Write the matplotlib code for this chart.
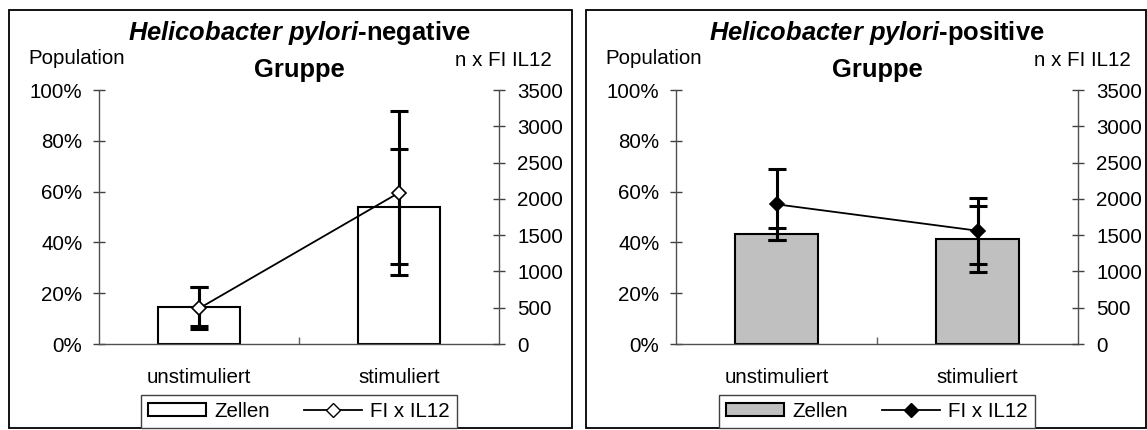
import matplotlib
matplotlib.use("Agg")
import matplotlib.pyplot as plt
from matplotlib.patches import Rectangle, Patch
from matplotlib.lines import Line2D
from matplotlib.ticker import PercentFormatter, MultipleLocator, FixedLocator

plt.rcParams['font.family'] = ['Liberation Sans', 'DejaVu Sans']
plt.rcParams['mathtext.fontset'] = 'custom'
plt.rcParams['mathtext.rm'] = 'Liberation Sans'
plt.rcParams['mathtext.bf'] = 'Liberation Sans:bold'
plt.rcParams['mathtext.it'] = 'Liberation Sans:italic'
plt.rcParams['mathtext.bfit'] = 'Liberation Sans:italic:bold'

categories = ['unstimuliert', 'stimuliert']

# cell population (%) with error
neg_cells = [14.7, 54.1]
neg_cells_err = [7.6, 22.7]
pos_cells = [43.2, 41.5]
pos_cells_err = [2.3, 13.0]

# n x FI IL12 with error
neg_fi = [490, 2085]
neg_fi_err = [290, 1130]
pos_fi = [1925, 1561]
pos_fi_err = [490, 455]

W, H = 1147, 430
fig = plt.figure(figsize=(W / 100, H / 100), dpi=100)

FS = 14.8
TFS = 18.4


def panel(x0, x1, frame, title_word, cells, cells_err, fi, fi_err, bar_color, marker_face):
    # frame around each chart
    fig.patches.append(Rectangle((frame[0] / W, 1 - frame[3] / H),
                                 (frame[2] - frame[0]) / W, (frame[3] - frame[1]) / H,
                                 transform=fig.transFigure, fill=False,
                                 edgecolor='black', linewidth=1.3, zorder=0))

    ax = fig.add_axes([x0 / W, 1 - 344 / H, (x1 - x0) / W, (344 - 90) / H])
    xs = list(range(len(categories)))
    ax.bar(xs, cells, width=0.41, color=bar_color, edgecolor='black',
           linewidth=1.5, zorder=2)
    ax.errorbar(xs, cells, yerr=cells_err, fmt='none', ecolor='black',
                elinewidth=2.2, capsize=6.5, capthick=2.2, zorder=3)
    ax.set_xlim(-0.5, 1.5)
    ax.set_ylim(0, 100)
    ax.yaxis.set_major_locator(MultipleLocator(20))
    ax.yaxis.set_major_formatter(PercentFormatter(100, decimals=0))
    ax.set_xticks(xs)
    ax.set_xticklabels(categories, fontsize=FS)
    ax.xaxis.set_minor_locator(FixedLocator([0.5]))
    ax.tick_params(axis='x', which='major', length=0, pad=17)
    ax.tick_params(axis='x', which='minor', direction='in', length=5,
                   color='#606060', width=1)
    ax.tick_params(axis='y', direction='inout', length=8, width=1,
                   color='#404040', labelsize=FS, pad=8)
    for s in ['top', 'right']:
        ax.spines[s].set_visible(False)
    for s in ['left', 'bottom']:
        ax.spines[s].set_color('#505050')
        ax.spines[s].set_linewidth(1)

    ax2 = ax.twinx()
    ax2.errorbar(xs, fi, yerr=fi_err, fmt='none', ecolor='black',
                 elinewidth=2.2, capsize=6.5, capthick=2.2, zorder=3)
    ax2.plot(xs, fi, color='black', linewidth=1.3, marker='D', markersize=7,
             markerfacecolor=marker_face, markeredgecolor='black',
             markeredgewidth=1.2, zorder=4)
    ax2.set_ylim(0, 3500)
    ax2.yaxis.set_major_locator(MultipleLocator(500))
    ax2.tick_params(axis='y', direction='inout', length=8, width=1,
                    color='#404040', labelsize=FS, pad=9)
    for s in ['top', 'left', 'bottom']:
        ax2.spines[s].set_visible(False)
    ax2.spines['right'].set_color('#505050')
    ax2.spines['right'].set_linewidth(1)

    cx = (x0 + x1) / 2 / W
    fig.text(cx, 1 - 33 / H, r'$\mathbfit{Helicobacter\ pylori}$-' + title_word,
             ha='center', va='center', fontsize=TFS, fontweight='bold')
    fig.text(cx, 1 - 70 / H, 'Gruppe', ha='center', va='center',
             fontsize=TFS, fontweight='bold')
    fig.text((frame[0] + 19) / W, 1 - 58 / H, 'Population', ha='left',
             va='center', fontsize=FS)
    fig.text((x1 + 53) / W, 1 - 60 / H, 'n x FI IL12', ha='right',
             va='center', fontsize=FS)

    handles = [Patch(facecolor=bar_color, edgecolor='black', linewidth=1.5),
               Line2D([], [], color='black', linewidth=1.3, marker='D',
                      markersize=7, markerfacecolor=marker_face,
                      markeredgecolor='black')]
    leg = fig.legend(handles, ['Zellen', 'FI x IL12'], loc='lower center',
                     bbox_to_anchor=(cx, 2 / H), ncol=2, fontsize=FS,
                     frameon=True, fancybox=False, edgecolor='#404040',
                     framealpha=1, borderpad=0.35, handlelength=2.8,
                     handleheight=0.65, handletextpad=0.4, columnspacing=1.7,
                     borderaxespad=0)
    leg.get_frame().set_linewidth(1)


panel(99, 499, (9, 10, 572, 428), 'negative', neg_cells, neg_cells_err,
      neg_fi, neg_fi_err, 'white', 'white')
panel(676, 1078, (586, 10, 1146, 428), 'positive', pos_cells, pos_cells_err,
      pos_fi, pos_fi_err, '#C0C0C0', 'black')

fig.savefig('out.png', dpi=100)
